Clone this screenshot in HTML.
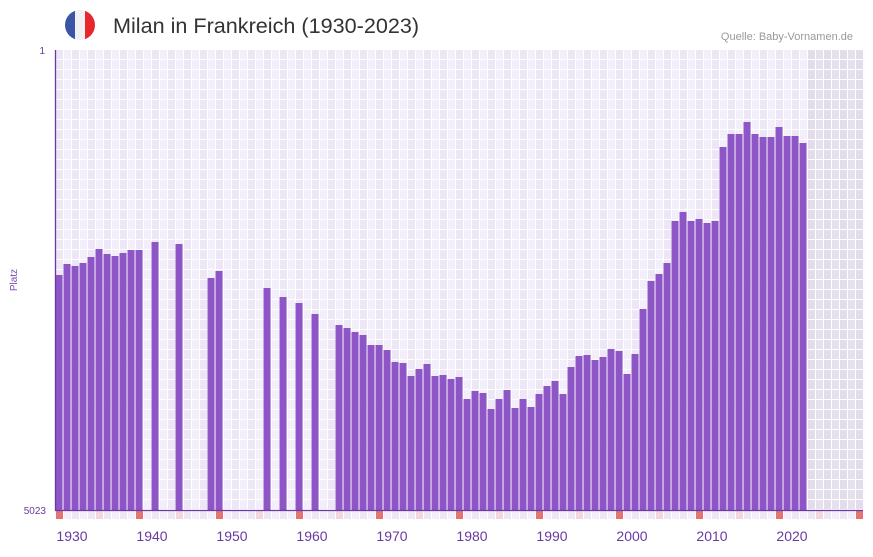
<!DOCTYPE html>
<html><head><meta charset="utf-8"><style>
body{margin:0;background:#fff;font-family:"Liberation Sans",sans-serif}
</style></head><body>
<svg width="873" height="552" xmlns="http://www.w3.org/2000/svg" id="s">
<defs>
<clipPath id="fc"><circle cx="80" cy="25" r="15"/></clipPath>
</defs>
<g clip-path="url(#fc)">
<rect x="65" y="10" width="10" height="30" fill="#3a55a4"/>
<rect x="75" y="10" width="10" height="30" fill="#f1f1f3"/>
<rect x="85" y="10" width="10" height="30" fill="#e8262e"/>
</g>
<text x="113" y="33" font-size="21.6" fill="#333">Milan in Frankreich (1930-2023)</text>
<text x="853" y="40" font-size="11" fill="#999" text-anchor="end">Quelle: Baby-Vornamen.de</text>
<g id="grid"></g>
<g id="bars"></g>
<line x1="55.5" y1="50" x2="55.5" y2="511" stroke="#6a3aa0" stroke-width="1.3"/>
<line x1="55" y1="510.5" x2="863" y2="510.5" stroke="#6a3aa0" stroke-width="1.3"/>
<text x="45" y="54" font-size="10" fill="#6a3aa0" text-anchor="end">1</text>
<text x="46" y="514" font-size="10" fill="#6a3aa0" text-anchor="end">5023</text>
<text transform="translate(17,280) rotate(-90)" font-size="10" fill="#7a4ab8" text-anchor="middle">Platz</text>
<g id="lbl" font-size="14" fill="#6a3aa0" text-anchor="middle"></g>
</svg>
<script>
var ns="http://www.w3.org/2000/svg";
function el(p,t,a){var e=document.createElementNS(ns,t);for(var k in a)e.setAttribute(k,a[k]);p.appendChild(e);return e;}
var g=document.getElementById('grid');
for(var i=0;i<101;i++){
 var x=56+8*i;
 var gray=i>=94;
 var c=gray?(i%2?'#e4e0ec':'#e2dced'):(i%2?'#f3effa':'#ece6f7');
 for(var r=0;r<46;r++){el(g,'rect',{x:x,y:50+r*10,width:7,height:9,fill:c});}
 var sc=i%10==0?'#e57373':(i%10==5?'#f5d5dd':(i%2?'#f3effa':'#ece6f7'));
 el(g,'rect',{x:x,y:511,width:7,height:8,fill:sc});
}
var v={0:275,1:264,2:266,3:263,4:257,5:249,6:254,7:256,8:253,9:250,10:250,12:242,15:244,19:278,20:271,26:288,28:297,30:303,32:314,35:325,36:328,37:332,38:335,39:345,40:345,41:350,42:362,43:363,44:376,45:369,46:364,47:376,48:375,49:379,50:377,51:399,52:391,53:393,54:409,55:399,56:390,57:408,58:399,59:407,60:394,61:386,62:381,63:394,64:367,65:356,66:355,67:360,68:357,69:349,70:351,71:374,72:354,73:309,74:281,75:274,76:263,77:221,78:212,79:221,80:219,81:223,82:221,83:147,84:134,85:134,86:122,87:134,88:137,89:137,90:127,91:136,92:136,93:143};
var b=document.getElementById('bars');
for(var k in v){el(b,'rect',{x:55+8*k+0.5,y:v[k],width:7,height:510-v[k],fill:'#8d55c6'});}
var l=document.getElementById('lbl');
for(var j=0;j<10;j++){var t=el(l,'text',{x:72+80*j,y:541});t.textContent=1930+10*j;}
</script>
</body></html>
